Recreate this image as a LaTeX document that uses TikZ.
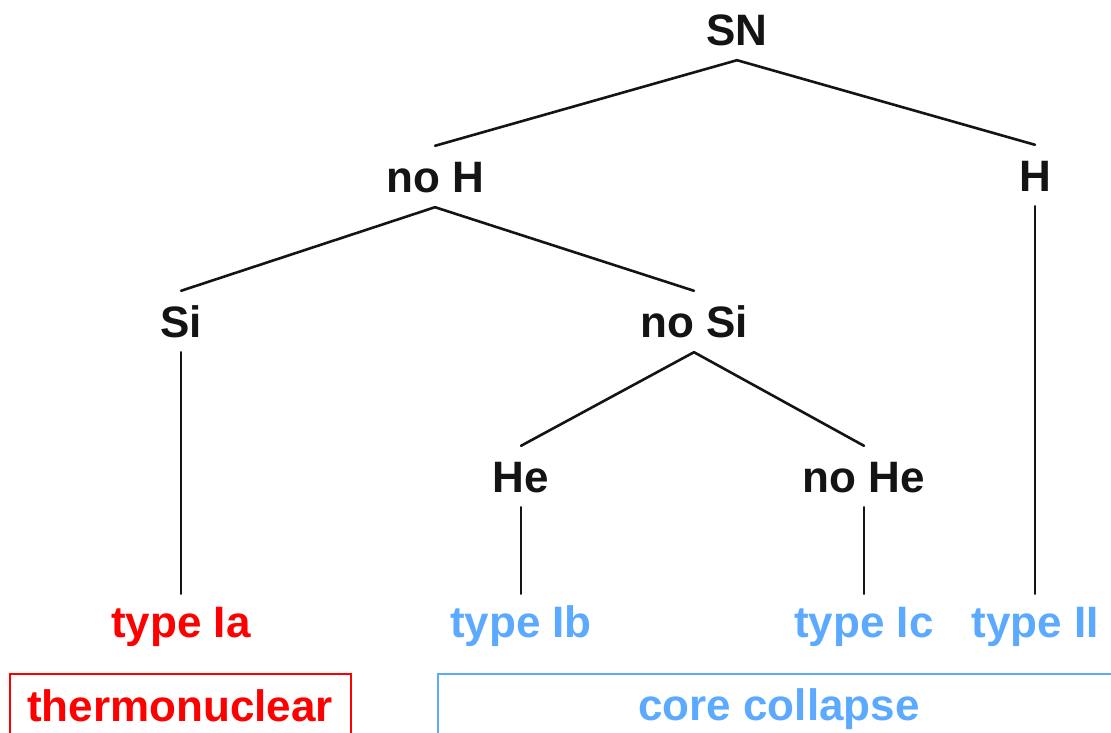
\documentclass[tikz,border=0pt]{standalone}
\usepackage{fontspec}
\setmainfont{Liberation Sans}
\definecolor{snred}{RGB}{255,0,0}
\definecolor{snblue}{RGB}{92,170,255}
\definecolor{lineblk}{RGB}{20,20,20}
\begin{document}
\begin{tikzpicture}[x=1pt,y=-1pt,
  lab/.style={anchor=base,inner xsep=0pt,inner ysep=15pt,text height=31pt,text depth=0pt,
    font=\fontsize{44}{50}\selectfont\bfseries,text=lineblk},
  typelab/.style={lab,inner ysep=12pt},
  edge/.style={draw=lineblk,line width=2.6pt,line cap=round,line join=round},
  boxline/.style={line width=2pt}]
\useasboundingbox (0,0) rectangle (1111,732);
\clip (0,0) rectangle (1111,732);
\node[lab] (SN) at (737,45) {SN};
\node[lab] (noH) at (435,192) {no H};
\node[lab] (H) at (1035,191) {H};
\node[lab] (Si) at (181,337) {Si};
\node[lab] (noSi) at (694,337) {no Si};
\node[lab] (He) at (521,492) {He};
\node[lab] (noHe) at (864,492) {no He};
\node[typelab,text=snred] (Ia) at (181,637) {type Ia};
\node[typelab,text=snblue] (Ib) at (521,637) {type Ib};
\node[typelab,text=snblue] (Ic) at (864,637) {type Ic};
\node[typelab,text=snblue] (II) at (1035,637) {type II};
\draw[edge] (noH.north) -- (SN.south) -- (H.north);
\draw[edge] (Si.north) -- (noH.south) -- (noSi.north);
\draw[edge] (He.north) -- (noSi.south) -- (noHe.north);
\draw[edge] (Si.south) -- (Ia.north);
\draw[edge] (He.south) -- (Ib.north);
\draw[edge] (noHe.south) -- (Ic.north);
\draw[edge] (H.south) -- (II.north);
\draw[boxline,draw=snred] (10,674) rectangle (351,760);
\draw[boxline,draw=snblue] (438,674) rectangle (1130,760);
\node[lab,inner ysep=0pt,text=snred] (thermo) at (180,721) {thermonuclear};
\node[lab,inner ysep=0pt,text=snblue] (core) at (779,720) {core collapse};
\end{tikzpicture}
\end{document}
